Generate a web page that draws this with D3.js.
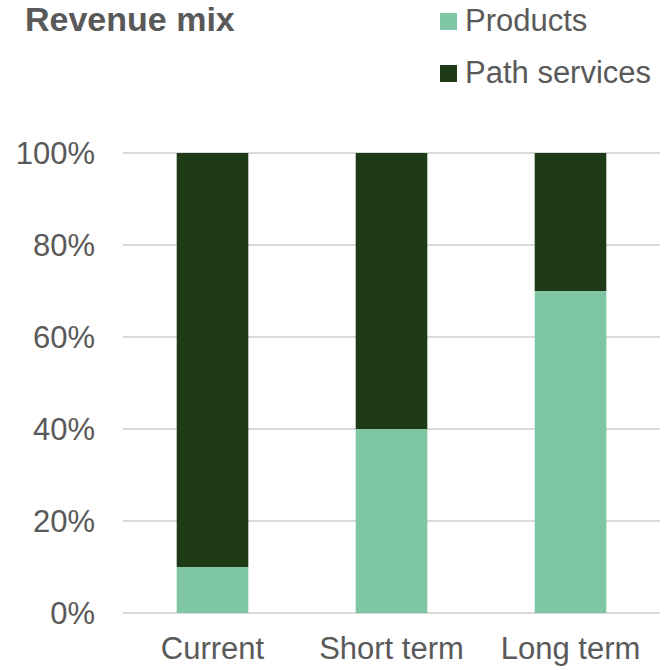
<!DOCTYPE html>
<html>
<head>
<meta charset="utf-8">
<script src="https://cdn.jsdelivr.net/npm/d3@7"></script>
<style>
  html, body { margin: 0; padding: 0; background: #fff; }
  svg { display: block; font-family: "Liberation Sans", Arial, sans-serif; }
</style>
</head>
<body>
<svg id="chart" width="666" height="670"></svg>
<script>
/* Revenue mix — 100% stacked columns */

const categories = ['Current', 'Short term', 'Long term'];
const products   = [10, 40, 70];
const pathSvc    = [90, 60, 30];
const yTicks     = [0, 20, 40, 60, 80, 100];
const seriesNames  = ['Products', 'Path services'];
const seriesColors = ['#7fc6a4', '#1e3a17'];

const W = 666, H = 670;
const margin = { top: 153, right: 6, bottom: 57, left: 123 };
const FONT = '"Liberation Sans", Arial, sans-serif';

const svg = d3.select('#chart');

const x = d3.scaleBand()
  .domain(categories)
  .range([margin.left, W - margin.right])
  .paddingInner(0.6)
  .paddingOuter(0.3);

const y = d3.scaleLinear()
  .domain([0, 100])
  .range([H - margin.bottom, margin.top]);

// gridlines
svg.append('g')
  .selectAll('line')
  .data(yTicks)
  .enter().append('line')
  .attr('x1', margin.left).attr('x2', W - margin.right)
  .attr('y1', d => y(d)).attr('y2', d => y(d))
  .attr('stroke', '#d9d9d9').attr('stroke-width', 2);

// stacked bars
const rows = categories.map((c, i) => ({ cat: c, Products: products[i], 'Path services': pathSvc[i] }));
const stack = d3.stack().keys(seriesNames)(rows);

svg.append('g')
  .selectAll('g')
  .data(stack)
  .enter().append('g')
  .attr('fill', (d, i) => seriesColors[i])
  .selectAll('rect')
  .data(d => d)
  .enter().append('rect')
  .attr('x', d => x(d.data.cat))
  .attr('width', x.bandwidth())
  .attr('y', d => y(d[1]))
  .attr('height', d => y(d[0]) - y(d[1]));

// y axis labels
const yAxis = d3.axisLeft(y).tickValues(yTicks).tickFormat(d => d + '%').tickSize(0).tickPadding(28);
const gy = svg.append('g').attr('transform', `translate(${margin.left},0)`).call(yAxis);
gy.select('.domain').remove();
gy.selectAll('text')
  .attr('fill', '#595959')
  .attr('dy', '0.35em')
  .style('font-size', '31px')
  .style('font-family', FONT);

// x axis labels
const xAxis = d3.axisBottom(x).tickSize(0).tickPadding(24);
const gx = svg.append('g').attr('transform', `translate(0,${H - margin.bottom})`).call(xAxis);
gx.select('.domain').remove();
gx.selectAll('text')
  .attr('fill', '#595959')
  .style('font-size', '31px')
  .style('font-family', FONT);

// title
svg.append('text')
  .attr('x', 25).attr('y', 31)
  .attr('fill', '#595959')
  .style('font-size', '34px')
  .style('font-weight', 'bold')
  .text('Revenue mix');

// legend
const legend = svg.append('g')
  .selectAll('g')
  .data(seriesNames)
  .enter().append('g')
  .attr('transform', (d, i) => `translate(440,${31 + i * 52})`);
legend.append('rect')
  .attr('x', 0).attr('y', -18)
  .attr('width', 17).attr('height', 17)
  .attr('fill', (d, i) => seriesColors[i]);
legend.append('text')
  .attr('x', 25).attr('y', 0)
  .attr('fill', '#595959')
  .style('font-size', '31px')
  .text(d => d);
</script>
</body>
</html>
